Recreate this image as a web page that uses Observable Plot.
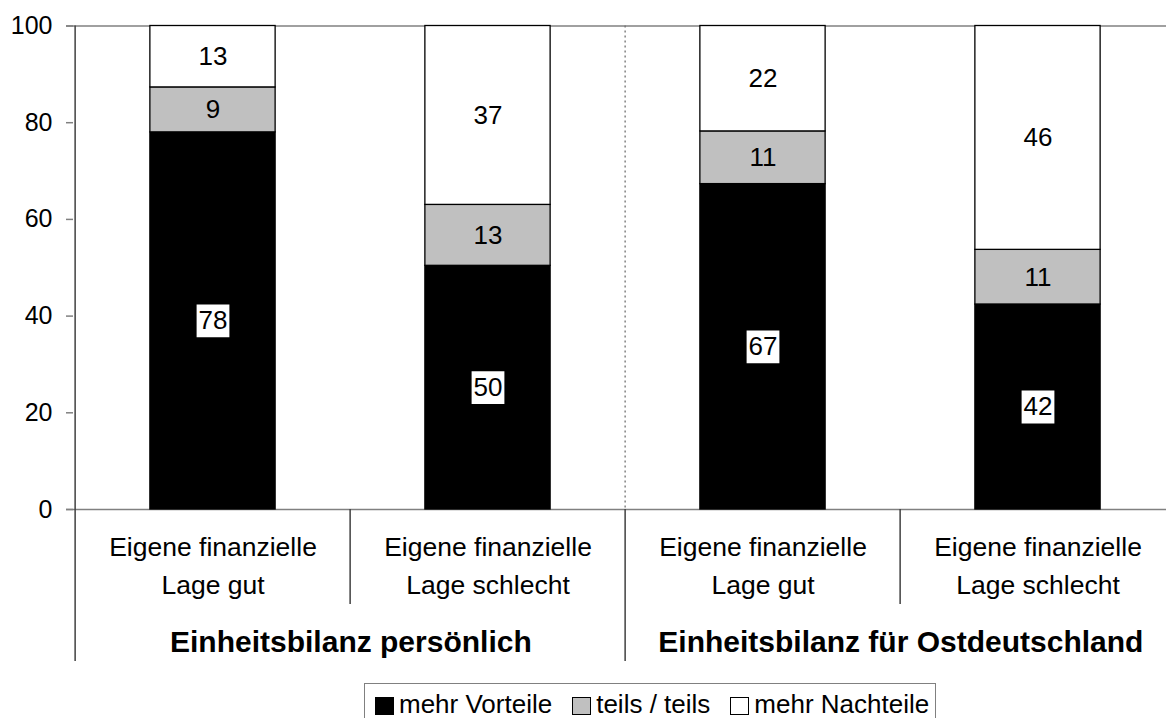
<!DOCTYPE html>
<html>
<head>
<meta charset="utf-8">
<script src="https://cdn.jsdelivr.net/npm/d3@7"></script>
<script src="https://cdn.jsdelivr.net/npm/@observablehq/plot@0.6"></script>
<style>
  html, body { margin: 0; padding: 0; background: #fff; overflow: hidden; }
  body { font-family: "Liberation Sans", Arial, sans-serif; }
  #chart { width: 1175px; }
  #chart svg { display: block; max-width: none !important; }
  .legend {
    margin-left: 364px; margin-top: 11px;
    display: inline-flex; align-items: flex-end;
    border: 1px solid #808080; border-bottom: none;
    padding: 5px 6px 4px 10px;
    font-size: 26px; line-height: 30px; color: #000; white-space: nowrap;
  }
  .legend .sw { width: 19px; height: 18px; border: 1px solid #000; box-sizing: border-box; margin-right: 5px; margin-bottom: 4px; display: inline-block; }
  .legend .item { display: inline-flex; align-items: flex-end; margin-right: 20px; }
  .legend .item:last-child { margin-right: 0; }
</style>
</head>
<body>
<div id="chart"></div>
<div class="legend" id="legend"></div>
<script>
// ---- data ----
const categories = ["pers_gut", "pers_schlecht", "ost_gut", "ost_schlecht"];
const categoryLabels = ["Eigene finanzielle\nLage gut", "Eigene finanzielle\nLage schlecht", "Eigene finanzielle\nLage gut", "Eigene finanzielle\nLage schlecht"];
const groups = ["Einheitsbilanz persönlich", "Einheitsbilanz für Ostdeutschland"];
const series = ["mehr Vorteile", "teils / teils", "mehr Nachteile"];
const seriesColors = ["#000000", "#c0c0c0", "#ffffff"];
const vorteile = [78.0, 50.4, 67.3, 42.4];
const teils = [9.3, 12.6, 10.9, 11.3];
const nachteile = [12.7, 37.0, 21.8, 46.3];
const yTicks = [0, 20, 40, 60, 80, 100];

// ---- table ----
const seriesValues = [vorteile, teils, nachteile];
const rows = [];
categories.forEach((c, i) => series.forEach((s, j) => rows.push({cat: c, series: s, value: seriesValues[j][i]})));
const fmt = d3.format(".0f");

const W = 1176, ML = 73, MR = 0, H = 672, MT = 25.5, MB = 163;
const step = (W - ML - MR) / categories.length;
const barInset = (step - 126) / 2;

const plot = Plot.plot({
  width: W, height: H,
  marginLeft: ML, marginRight: MR, marginTop: MT, marginBottom: MB,
  style: {fontFamily: "Liberation Sans, Arial, sans-serif", color: "#000", background: "#fff", maxWidth: "none"},
  x: {type: "band", domain: categories, padding: 0, axis: null},
  y: {domain: [0, 100], ticks: yTicks, label: null, axis: null},
  color: {domain: series, range: seriesColors},
  marks: [
    // top line and baseline
    Plot.ruleY([100, 0], {stroke: "#808080", strokeWidth: 1.5, insetLeft: -7}),
    // dotted separator between groups (plot area)
    Plot.ruleX([categories[2]], {x: d => d, dx: -step / 2, stroke: "#707070", strokeWidth: 1.3, strokeDasharray: "2,3"}),
    // bars
    Plot.barY(rows, Plot.stackY({
      x: "cat", y: "value", z: "series", fill: "series", order: series,
      stroke: "#000", strokeWidth: 1.3, insetLeft: barInset, insetRight: barInset
    })),
    // white boxes behind labels on black segments
    Plot.dot(rows, Plot.stackY({
      x: "cat", y: "value", z: "series", order: series, filter: d => d.series === series[0],
      symbol: "square", r: 18.5, fill: "#fff", stroke: "none"
    })),
    // segment labels
    Plot.text(rows, Plot.stackY({
      x: "cat", y: "value", z: "series", order: series, text: d => fmt(d.value),
      fontSize: 26, fill: "#000"
    })),
    // y axis
    Plot.axisY({ticks: yTicks, tickSize: 7, tickPadding: 14, fontSize: 25, tickFormat: d => d, stroke: "#808080", strokeWidth: 1.5, label: null}),
    // left axis line extended down
    Plot.ruleX([categories[0]], {x: d => d, dx: -step / 2, stroke: "#404040", strokeWidth: 1.5, insetBottom: -152}),
    // group separator below baseline
    Plot.ruleX([categories[2]], {x: d => d, y1: () => 0, y2: () => 0, dx: -step / 2, stroke: "#404040", strokeWidth: 1.5, insetBottom: -152}),
    // inner separators below baseline
    Plot.ruleX([categories[1], categories[3]], {x: d => d, y1: () => 0, y2: () => 0, dx: -step / 2, stroke: "#404040", strokeWidth: 1.5, insetBottom: -95}),
    // category labels
    Plot.text(categories, {x: d => d, y: () => 0, text: (d, i) => categoryLabels[i], dy: 53, lineAnchor: "middle", lineHeight: 1.47, fontSize: 26.5, fill: "#000"}),
    // group labels
    Plot.text(groups, {x: (d, i) => categories[2 * i], y: () => 0, text: d => d, dx: step / 2, dy: 133, fontSize: 30, fontWeight: "bold", fill: "#000"})
  ]
});
document.getElementById("chart").appendChild(plot);

// legend
const legend = document.getElementById("legend");
series.forEach((s, j) => {
  const item = document.createElement("span");
  item.className = "item";
  const sw = document.createElement("span");
  sw.className = "sw";
  sw.style.background = seriesColors[j];
  const t = document.createElement("span");
  t.textContent = s;
  item.appendChild(sw);
  item.appendChild(t);
  legend.appendChild(item);
});
</script>
</body>
</html>
